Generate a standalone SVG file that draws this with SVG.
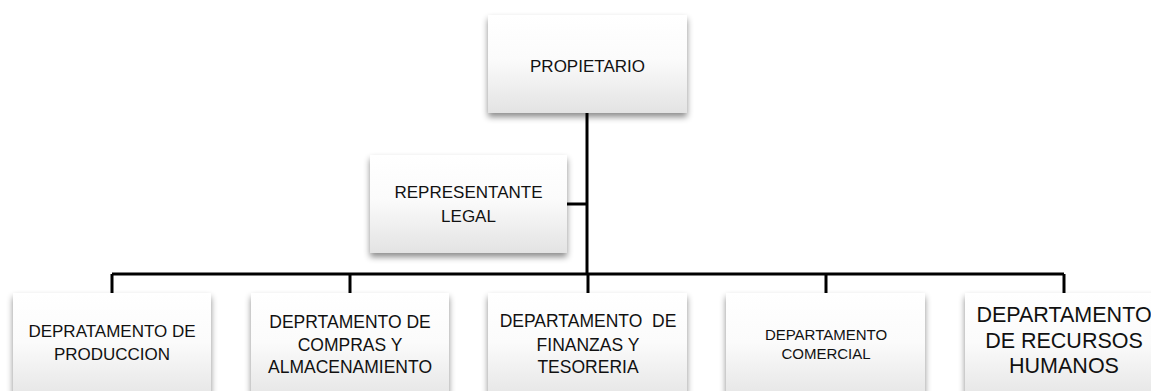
<svg xmlns="http://www.w3.org/2000/svg" width="1151" height="391" viewBox="0 0 1151 391">
<defs>
<linearGradient id="g" x1="0" y1="0" x2="0" y2="1">
<stop offset="0" stop-color="#ffffff"/>
<stop offset="0.45" stop-color="#fbfbfb"/>
<stop offset="1" stop-color="#e3e3e3"/>
</linearGradient>
<filter id="sh" x="-10%" y="-10%" width="120%" height="130%">
<feDropShadow dx="0" dy="4" stdDeviation="3" flood-color="#000" flood-opacity="0.45"/>
</filter>
</defs>
<style>
.box{fill:url(#g);filter:url(#sh);}
.t{font-family:"Liberation Sans",Arial,sans-serif;fill:#111;text-anchor:middle;white-space:pre;}
.ln{stroke:#000;stroke-width:3;fill:none;}
</style>
<rect width="1151" height="391" fill="#fff"/>
<g id="connectors">
<line class="ln" x1="587" y1="113" x2="587" y2="275"/>
<line class="ln" x1="567" y1="204" x2="587" y2="204"/>
<line class="ln" x1="112" y1="274" x2="1064" y2="274"/>
<line class="ln" x1="112" y1="274" x2="112" y2="293"/>
<line class="ln" x1="350" y1="274" x2="350" y2="293"/>
<line class="ln" x1="588" y1="274" x2="588" y2="293"/>
<line class="ln" x1="826" y1="274" x2="826" y2="293"/>
<line class="ln" x1="1064" y1="274" x2="1064" y2="293"/>
</g>
<g id="propietario">
<rect class="box" x="488" y="15" width="199" height="98"/>
<text class="t" x="587.5" y="72" font-size="17">PROPIETARIO</text>
</g>
<g id="representante">
<rect class="box" x="370" y="155" width="197" height="98"/>
<text class="t" x="468.5" y="198" font-size="17">REPRESENTANTE</text>
<text class="t" x="468.5" y="222" font-size="17">LEGAL</text>
</g>
<g id="produccion">
<rect class="box" x="13" y="293" width="198" height="110"/>
<text class="t" x="112" y="337" font-size="17">DEPRATAMENTO DE</text>
<text class="t" x="112" y="360" font-size="17">PRODUCCION</text>
</g>
<g id="compras">
<rect class="box" x="251" y="293" width="198" height="110"/>
<text class="t" x="350" y="328" font-size="17.5">DEPRTAMENTO DE</text>
<text class="t" x="350" y="351" font-size="17.5">COMPRAS Y</text>
<text class="t" x="350" y="373" font-size="17.5">ALMACENAMIENTO</text>
</g>
<g id="finanzas">
<rect class="box" x="488" y="293" width="199" height="110"/>
<text class="t" x="588" y="327" font-size="17.5">DEPARTAMENTO  DE</text>
<text class="t" x="588" y="351" font-size="17.5">FINANZAS Y</text>
<text class="t" x="588" y="373" font-size="17.5">TESORERIA</text>
</g>
<g id="comercial">
<rect class="box" x="726" y="293" width="199" height="110"/>
<text class="t" x="826" y="340" font-size="15">DEPARTAMENTO</text>
<text class="t" x="826" y="359" font-size="15">COMERCIAL</text>
</g>
<g id="rrhh">
<rect class="box" x="965" y="293" width="199" height="110"/>
<text class="t" x="1064" y="322" font-size="21.5">DEPARTAMENTO</text>
<text class="t" x="1064" y="348" font-size="21.5">DE RECURSOS</text>
<text class="t" x="1064" y="373" font-size="21.5">HUMANOS</text>
</g>
</svg>
